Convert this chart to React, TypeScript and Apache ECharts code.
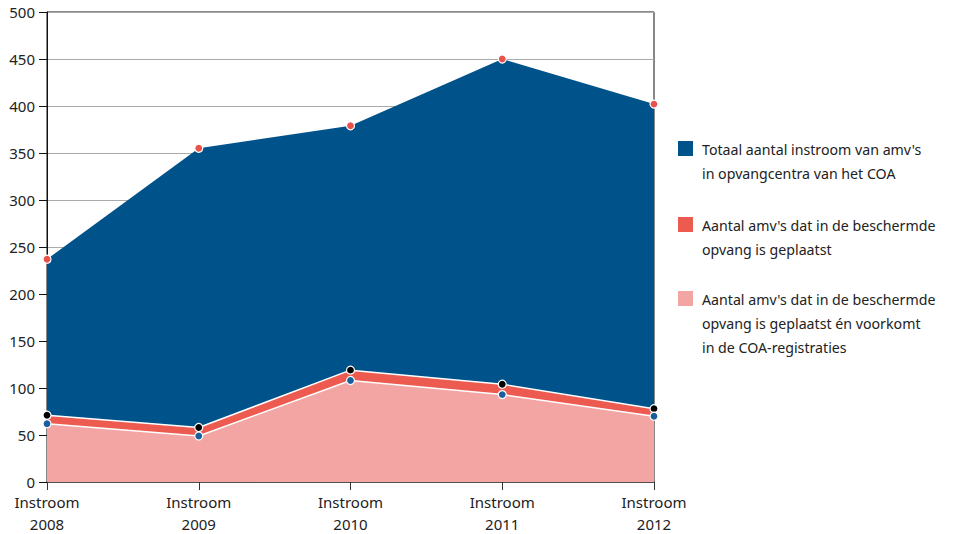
import React, { useEffect, useRef } from "react";
import * as echarts from "echarts";

const categories = ["Instroom\n2008", "Instroom\n2009", "Instroom\n2010", "Instroom\n2011", "Instroom\n2012"];
const totalValues = [237, 355, 379, 450, 402];
const beschermdValues = [71, 58, 119, 104, 78];
const coaValues = [62, 49, 108, 93, 70];
const yTicks = { min: 0, max: 500, interval: 50 };

const legendItems = [
  { color: "#00528a", lines: ["Totaal aantal instroom van amv's", "in opvangcentra van het COA"] },
  { color: "#ec5a50", lines: ["Aantal amv's dat in de beschermde", "opvang is geplaatst"] },
  { color: "#f2a5a2", lines: ["Aantal amv's dat in de beschermde", "opvang is geplaatst én voorkomt", "in de COA-registraties"] },
];

const FONT = "'Noto Sans', 'Open Sans', sans-serif";

export default function App() {
  const ref = useRef<HTMLDivElement>(null);
  useEffect(() => {
    if (!ref.current) return;
    const chart = echarts.init(ref.current, undefined, { renderer: "svg" });
    const legendTops = [137, 213, 287];
    const graphic: any[] = [];
    legendItems.forEach((it, i) => {
      graphic.push({
        type: "rect",
        left: 678,
        top: legendTops[i] + 4,
        shape: { width: 15, height: 15 },
        style: { fill: it.color },
      });
      graphic.push({
        type: "text",
        left: 702,
        top: legendTops[i],
        style: {
          text: it.lines.join("\n"),
          font: `14.2px ${FONT}`,
          lineHeight: 24,
          fill: "#222",
        },
      });
    });
    const markerStyle = (c: string) => ({ color: c, borderColor: "#fff", borderWidth: 1.2 });
    chart.setOption({
      animation: false,
      grid: {
        left: 47, right: 302, top: 12, bottom: 52,
        show: true, borderColor: "#111", borderWidth: 1,
        containLabel: false, outerBoundsMode: "none",
      },
      xAxis: {
        type: "category",
        data: categories,
        boundaryGap: false,
        axisLine: { lineStyle: { color: "#333", width: 1.5 } },
        axisTick: { show: true, length: 8, lineStyle: { color: "#333" } },
        axisLabel: { fontFamily: FONT, fontSize: 15, color: "#222", lineHeight: 22, margin: 9, interval: 0 },
        splitLine: { show: false },
      },
      yAxis: {
        type: "value",
        min: yTicks.min,
        max: yTicks.max,
        interval: yTicks.interval,
        axisLine: { show: true, lineStyle: { color: "#111" } },
        axisTick: { show: true, length: 8, lineStyle: { color: "#111" } },
        axisLabel: { fontFamily: FONT, fontSize: 15, color: "#222", margin: 12, lineHeight: 13 },
        splitLine: { show: true, lineStyle: { color: "#aaa" } },
      },
      series: [
        {
          type: "line",
          name: "Totaal",
          data: totalValues,
          clip: false,
          symbol: "circle",
          symbolSize: 8,
          itemStyle: markerStyle("#e8524a"),
          lineStyle: { width: 0, color: "#00528a" },
          areaStyle: { color: "#00528a", opacity: 1 },
          z: 2,
        },
        {
          type: "line",
          name: "Beschermd",
          data: beschermdValues,
          clip: false,
          symbol: "circle",
          symbolSize: 8,
          itemStyle: markerStyle("#000"),
          lineStyle: { width: 1.5, color: "#fff" },
          areaStyle: { color: "#ec5a50", opacity: 1 },
          z: 3,
        },
        {
          type: "line",
          name: "COA",
          data: coaValues,
          clip: false,
          symbol: "circle",
          symbolSize: 8,
          itemStyle: markerStyle("#1a5f9c"),
          lineStyle: { width: 1.5, color: "#fff" },
          areaStyle: { color: "#f2a5a2", opacity: 1 },
          z: 4,
        },
      ],
      graphic,
    });
    return () => chart.dispose();
  }, []);
  return <div ref={ref} style={{ width: 956, height: 534, position: "absolute", left: 0, top: 0 }} />;
}
